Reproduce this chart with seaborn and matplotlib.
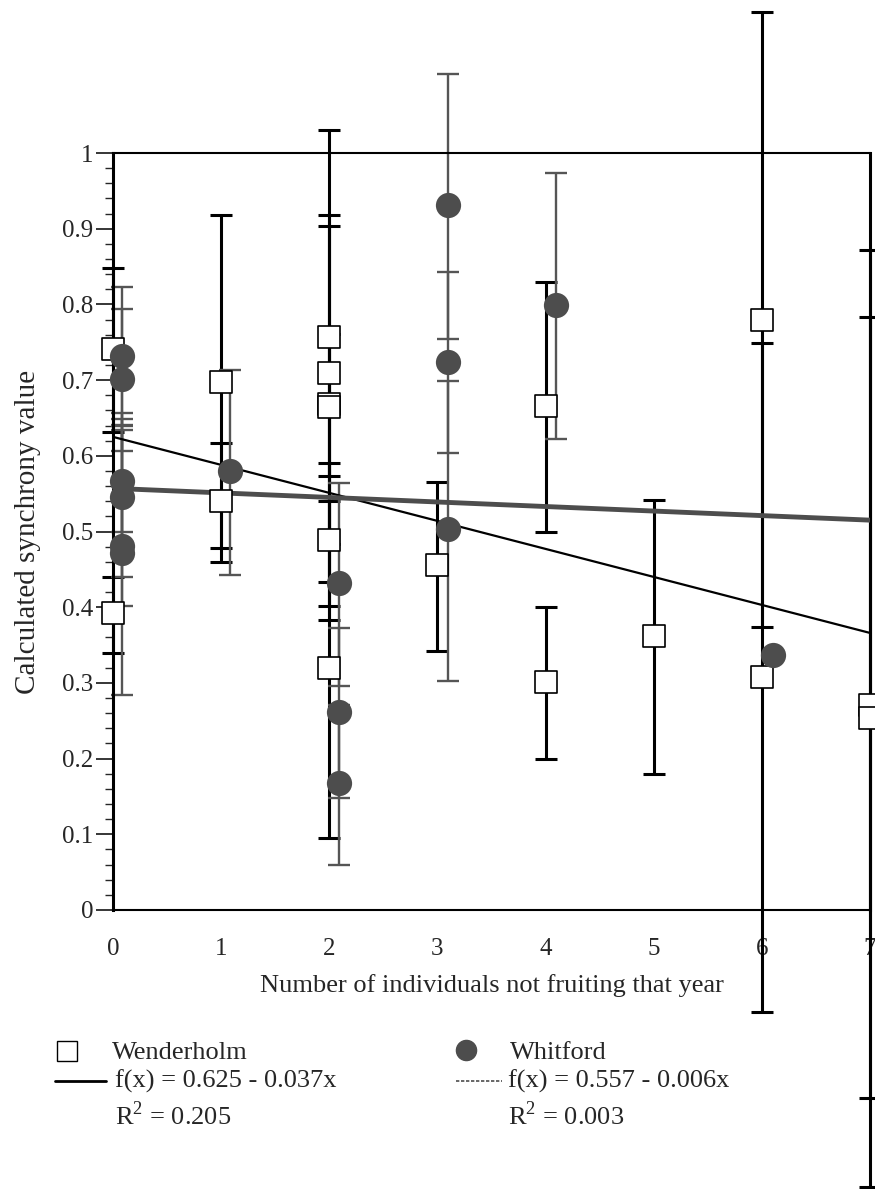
import numpy as np
import pandas as pd
import matplotlib
matplotlib.use("Agg")
import matplotlib.pyplot as plt
from matplotlib.lines import Line2D
from matplotlib.ticker import MultipleLocator, FuncFormatter
import seaborn as sns

# Wenderholm (squares)
wend_x = [0, 0, 1, 1, 2, 2, 2, 2, 2, 2, 3, 4, 4, 5, 6, 6, 7, 7]
wend_y = [0.741, 0.392, 0.698, 0.540, 0.757, 0.709, 0.668, 0.665, 0.489, 0.320,
          0.456, 0.666, 0.301, 0.362, 0.779, 0.308, 0.271, 0.253]
wend_lo = [0.632, 0.340, 0.478, 0.460, 0.484, 0.402, 0.433, 0.573, 0.383, 0.095,
           0.342, 0.500, 0.200, 0.180, 0.374, -0.135, -0.366, -0.248]
wend_hi = [0.848, 0.440, 0.918, 0.617, 1.030, 0.918, 0.903, 0.761, 0.591, 0.540,
           0.566, 0.830, 0.400, 0.542, 1.186, 0.749, 0.872, 0.784]

# Whitford (circles)
whit_x = [0.08, 0.08, 0.08, 0.08, 0.08, 0.08, 1.08, 2.09, 2.09, 2.09,
          3.1, 3.1, 3.1, 4.1, 6.1]
whit_y = [0.732, 0.702, 0.567, 0.545, 0.481, 0.471, 0.580, 0.432, 0.262, 0.168,
          0.931, 0.724, 0.503, 0.799, 0.337]
whit_lo = [0.641, 0.606, 0.500, 0.440, 0.401, 0.284, 0.443, 0.296, 0.148, 0.059,
           0.754, 0.604, 0.302, 0.622, 0.337]
whit_hi = [0.823, 0.794, 0.634, 0.649, 0.657, 0.640, 0.713, 0.564, 0.372, 0.271,
           1.104, 0.843, 0.699, 0.974, 0.337]

# regression fits shown in legend: intercept, slope, R^2
wend_fit = (0.625, -0.037, 0.205)
whit_fit = (0.557, -0.006, 0.003)
fit_x = [0, 7]

df_w = pd.DataFrame({'x': wend_x, 'y': wend_y, 'lo': wend_lo, 'hi': wend_hi})
df_f = pd.DataFrame({'x': whit_x, 'y': whit_y, 'lo': whit_lo, 'hi': whit_hi})

sns.set_style("white")
plt.rcParams['font.family'] = ['Liberation Serif', 'DejaVu Serif']
plt.rcParams['mathtext.fontset'] = 'custom'
plt.rcParams['mathtext.rm'] = 'Liberation Serif'

W, H = 875, 1189
fig = plt.figure(figsize=(W / 100, H / 100), dpi=100)
ax = fig.add_axes([113 / W, 1 - 910 / H, 757 / W, 757 / H])

GRAY = '#4d4d4d'

# error bars
ax.errorbar(df_w['x'], df_w['y'], yerr=[df_w['y'] - df_w['lo'], df_w['hi'] - df_w['y']],
            fmt='none', ecolor='black', elinewidth=2.2, capsize=8, capthick=2.2,
            clip_on=False, zorder=2)
ax.errorbar(df_f['x'], df_f['y'], yerr=[df_f['y'] - df_f['lo'], df_f['hi'] - df_f['y']],
            fmt='none', ecolor='#555555', elinewidth=1.7, capsize=8, capthick=1.7,
            clip_on=False, zorder=2)

# regression lines
sns.lineplot(x=fit_x, y=[wend_fit[0] + wend_fit[1] * v for v in fit_x], ax=ax,
             color='black', linewidth=1.6, zorder=3)
sns.lineplot(x=fit_x, y=[whit_fit[0] + whit_fit[1] * v for v in fit_x], ax=ax,
             color=GRAY, linewidth=3.5, zorder=3)

# markers
sns.scatterplot(data=df_w, x='x', y='y', marker='s', s=250, color='white',
                edgecolor='black', linewidth=1.2, ax=ax, clip_on=False, zorder=4,
                legend=False)
sns.scatterplot(data=df_f, x='x', y='y', marker='o', s=330, color=GRAY,
                edgecolor=GRAY, linewidth=0, ax=ax, clip_on=False, zorder=5,
                legend=False)

ax.set_xlim(0, 7)
ax.set_ylim(0, 1)
ax.set_xticks(range(0, 8))
ax.yaxis.set_major_locator(MultipleLocator(0.1))
ax.yaxis.set_minor_locator(MultipleLocator(0.02))
ax.yaxis.set_major_formatter(FuncFormatter(lambda v, p: f"{v:g}"))
ax.tick_params(axis='x', length=0, pad=20, labelsize=18)
ax.tick_params(axis='y', which='major', length=12, width=1.3, direction='out',
               pad=2, labelsize=18, left=True)
ax.tick_params(axis='y', which='minor', length=6, width=1.0, direction='out', left=True)

for side, lw in [('left', 2.2), ('right', 2.2), ('top', 1.5), ('bottom', 1.5)]:
    ax.spines[side].set_visible(True)
    ax.spines[side].set_color('black')
    ax.spines[side].set_linewidth(lw)

ax.set_xlabel('Number of individuals not fruiting that year', fontsize=19, labelpad=10)
ax.set_ylabel('Calculated synchrony value', fontsize=21, labelpad=15)

# legend drawn below the plot
def px(x, y):
    return x / W, 1 - y / H

fs = 19
fig.add_artist(Line2D(*zip(px(67, 1051)), marker='s', markersize=14,
                      markerfacecolor='white', markeredgecolor='black',
                      markeredgewidth=1.0, linestyle='none'))
fig.text(*px(112, 1053), 'Wenderholm', fontsize=fs, va='center')
fig.add_artist(Line2D(*zip(px(55, 1081), px(106, 1081)), color='black', linewidth=2))
fig.text(*px(115, 1081), f'f(x) = {wend_fit[0]:.3f} - {abs(wend_fit[1]):.3f}x',
         fontsize=fs, va='center')
fig.text(*px(115, 1116), f'R$^2$ = {wend_fit[2]:.3f}', fontsize=fs, va='center')

fig.add_artist(Line2D(*zip(px(466, 1050)), marker='o', markersize=14.5,
                      markerfacecolor=GRAY, markeredgecolor=GRAY, linestyle='none'))
fig.text(*px(510, 1053), 'Whitford', fontsize=fs, va='center')
fig.add_artist(Line2D(*zip(px(456, 1081), px(502, 1081)), color=GRAY, linewidth=1.2,
                      linestyle=(0, (2, 1))))
fig.text(*px(508, 1081), f'f(x) = {whit_fit[0]:.3f} - {abs(whit_fit[1]):.3f}x',
         fontsize=fs, va='center')
fig.text(*px(508, 1116), f'R$^2$ = {whit_fit[2]:.3f}', fontsize=fs, va='center')

fig.savefig('out.png', dpi=100)
